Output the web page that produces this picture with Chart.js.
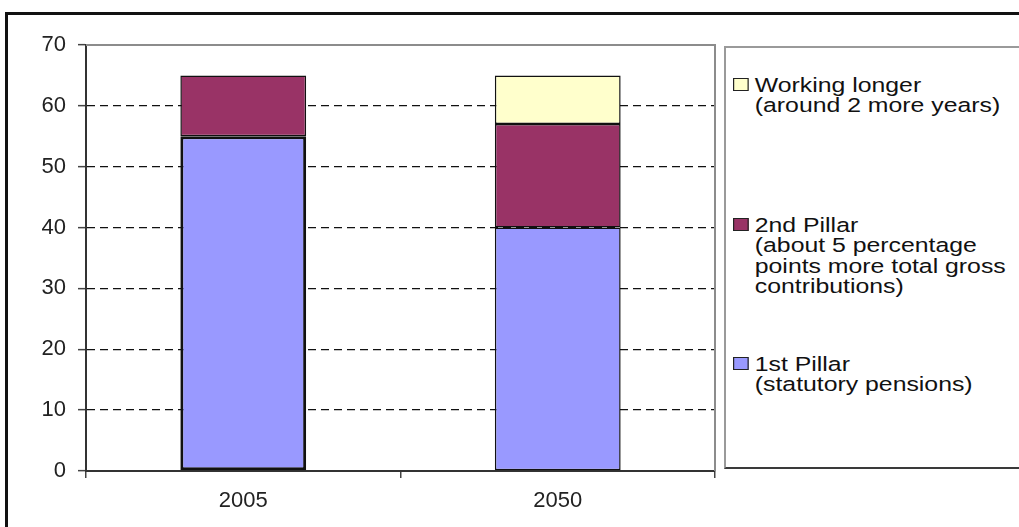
<!DOCTYPE html>
<html>
<head>
<meta charset="utf-8">
<script src="https://cdn.jsdelivr.net/npm/chart.js@4"></script>
<style>
  html, body { margin: 0; padding: 0; background: #fff; overflow: hidden; }
  #wrap { position: relative; width: 1019px; height: 527px; overflow: hidden; }
  #frame { position: absolute; left: 5px; top: 12px; width: 1100px; height: 600px; border: 3.5px solid #111; }
  #chart { position: absolute; left: 0; top: 0; }
  #legend { position: absolute; left: 724px; top: 45.5px; width: 400px; height: 419px; border: 2px solid #9a9a9a; border-bottom-color: #3a3a3a; background: #fff; }
  .item { position: absolute; left: 7px; transform: scaleX(1.21); transform-origin: left top; font: 20.5px "Liberation Sans", Arial, sans-serif; line-height: 20.5px; color: #111; white-space: nowrap; }
  .swatch { position: absolute; left: 0; top: 3.5px; width: 11px; height: 11px; border: 1px solid #222; }
  .text { margin-left: 18px; }
</style>
</head>
<body>
<div id="wrap">
  <div id="frame"></div>
  <canvas id="chart" width="1019" height="527"></canvas>
  <div id="legend"></div>
</div>
<script>
// values
const years = ['2005', '2050'];
const firstPillar = [55, 40];
const secondPillar = [10, 17];
const workingLonger = [null, 8];

const seriesNames = ['1st Pillar', '2nd Pillar', 'Working longer'];
const seriesNotes = [
    ['(statutory pensions)'],
    ['(about 5 percentage', 'points more total gross', 'contributions)'],
    ['(around 2 more years)']
];
const yMax = 70;
const yStep = 10;

const colors = ['#9999ff', '#993366', '#ffffcc'];
const legendTops = [306, 167, 27];
const font = { family: '"Liberation Sans", Arial, sans-serif', size: 22 };

// grey top/right edge of the plot area
const plotFrame = {
    id: 'plotFrame',
    beforeDatasetsDraw(chart) {
        const { ctx, chartArea: a } = chart;
        ctx.save();
        ctx.strokeStyle = '#8c8c8c';
        ctx.lineWidth = 2;
        ctx.beginPath();
        ctx.moveTo(a.left, a.top);
        ctx.lineTo(a.right, a.top);
        ctx.lineTo(a.right, a.bottom);
        ctx.stroke();
        ctx.restore();
    }
};

const chart = new Chart(document.getElementById('chart'), {
    type: 'bar',
    data: {
        labels: years,
        datasets: [
            { label: seriesNames[0], data: firstPillar, backgroundColor: colors[0], borderWidth: [3, 1.5] },
            { label: seriesNames[1], data: secondPillar, backgroundColor: colors[1], borderWidth: 1.5 },
            { label: seriesNames[2], data: workingLonger, backgroundColor: colors[2], borderWidth: 1.5 }
        ]
    },
    options: {
        responsive: false,
        animation: false,
        layout: { padding: { left: 0, top: 45, right: 304, bottom: 0 } },
        plugins: {
            legend: { display: false },
            tooltip: { enabled: false }
        },
        datasets: {
            bar: {
                barPercentage: 0.4,
                categoryPercentage: 1,
                borderColor: '#111',
                borderSkipped: false
            }
        },
        scales: {
            x: {
                stacked: true,
                afterFit: s => { s.height = 56; },
                grid: { drawOnChartArea: false, tickLength: 7, color: '#444', lineWidth: 1.5 },
                border: { color: '#333', width: 2 },
                ticks: { font, color: '#222', padding: 10 }
            },
            y: {
                stacked: true,
                min: 0,
                max: yMax,
                afterFit: s => { s.width = 86; },
                ticks: { stepSize: yStep, font, color: '#222', padding: 12 },
                grid: {
                    color: c => (c.tick && (c.tick.value === 0 || c.tick.value === yMax)) ? 'rgba(0,0,0,0)' : '#111',
                    lineWidth: 1.3,
                    tickLength: 8,
                    tickColor: '#444',
                    tickWidth: 1.5
                },
                border: { color: '#333', width: 2, dash: [8, 5] }
            }
        }
    },
    plugins: [plotFrame]
});

// legend with wrapped notes, top entry is the last series
const legend = document.getElementById('legend');
chart.data.datasets.forEach((ds, i) => {
    const item = document.createElement('div');
    item.className = 'item';
    item.style.top = legendTops[i] + 'px';
    const sw = document.createElement('div');
    sw.className = 'swatch';
    sw.style.background = ds.backgroundColor;
    item.appendChild(sw);
    [ds.label, ...seriesNotes[i]].forEach(line => {
        const t = document.createElement('div');
        t.className = 'text';
        t.textContent = line;
        item.appendChild(t);
    });
    legend.appendChild(item);
});
</script>
</body>
</html>
